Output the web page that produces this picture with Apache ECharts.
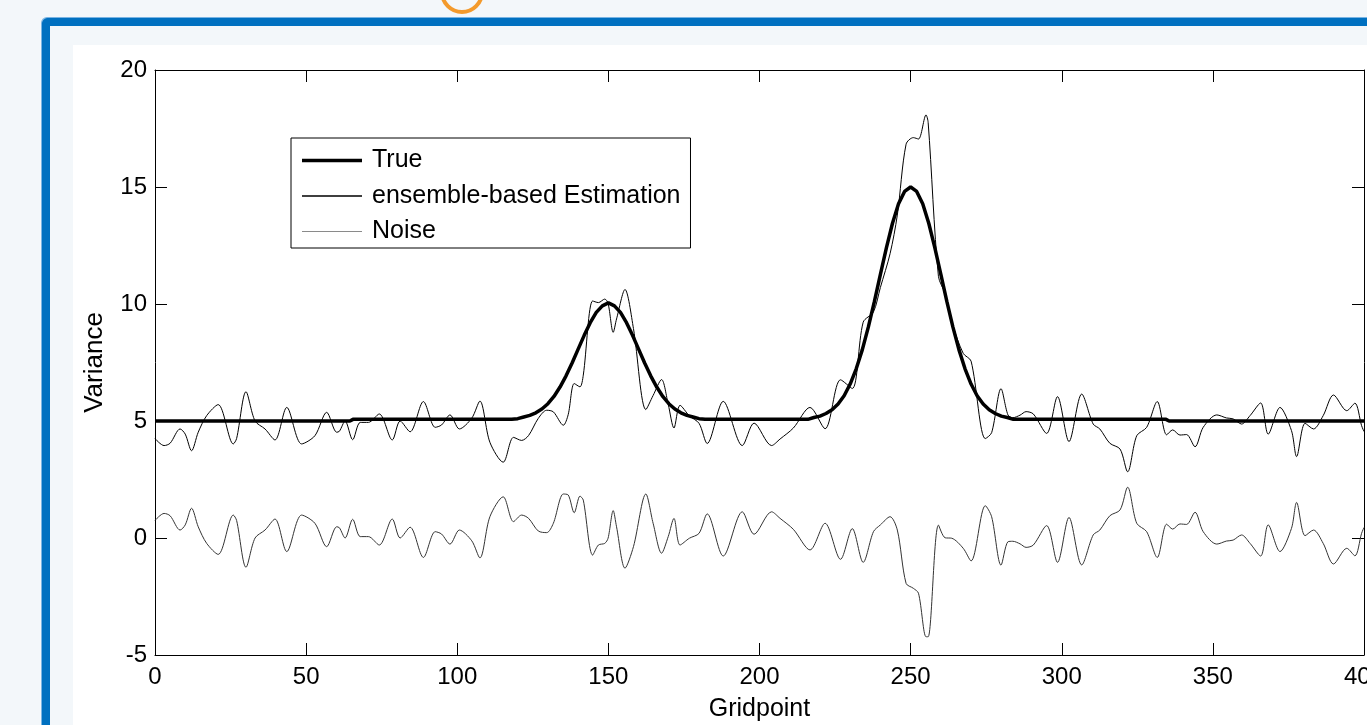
<!DOCTYPE html>
<html><head><meta charset="utf-8">
<script src="https://cdn.jsdelivr.net/npm/echarts@6/dist/echarts.min.js"></script>
<style>
html,body{margin:0;padding:0;width:1367px;height:725px;overflow:hidden;background:#f3f7fa;}
#frame{position:absolute;left:42px;top:18px;right:-30px;bottom:-30px;border-left:8px solid #0070c0;border-top:8px solid #0070c0;border-top-left-radius:6px;box-shadow:-1px -1px 0 #79b4e3;}
#panel{position:absolute;left:73px;top:45px;right:0;bottom:0;background:#fff;}
#arc{position:absolute;left:440px;top:-30px;width:36px;height:36px;border:4px solid #f39a2c;border-radius:50%;}
#chart{position:absolute;left:0;top:0;width:1367px;height:725px;}
</style></head>
<body>
<div id="frame"></div><div id="panel"></div><div id="arc"></div>
<div id="chart"></div>
<script>
// ---- data ----
const xMin = 0, xMax = 400, xStep = 50;
const yMin = -5, yMax = 20, yStep = 5;
const legendNames = ['True', 'ensemble-based Estimation', 'Noise'];

const truePts = [[0,5],[64.5,5],[65.5,5.07],[118,5.07],[120,5.10],[122,5.17],[124,5.24],[126,5.35],[128,5.51],[130,5.74],[132,6.05],[134,6.45],[136,6.93],[138,7.48],[140,8.07],[142,8.66],[144,9.20],[146,9.64],[148,9.92],[150,10.05],[152,9.92],[154,9.64],[156,9.20],[158,8.66],[160,8.07],[162,7.48],[164,6.93],[166,6.45],[168,6.05],[170,5.74],[172,5.51],[174,5.35],[176,5.24],[178,5.17],[180,5.10],[182,5.07],[216,5.07],[218,5.15],[220,5.21],[222,5.32],[224,5.48],[226,5.73],[228,6.08],[230,6.58],[232,7.23],[234,8.04],[236,9.01],[238,10.10],[240,11.27],[242,12.41],[244,13.45],[246,14.28],[248,14.81],[250,15.0],[252,14.81],[254,14.28],[256,13.45],[258,12.41],[260,11.27],[262,10.10],[264,9.01],[266,8.04],[268,7.23],[270,6.58],[272,6.08],[274,5.73],[276,5.48],[278,5.32],[280,5.21],[282,5.15],[284,5.07],[334.5,5.07],[335.5,5.0],[400,5.0]];

const estPts = [[0,4.25],[3,3.95],[5,4.05],[8.3,4.66],[10,4.44],[12.1,3.73],[14.3,4.52],[17.1,5.23],[20.9,5.70],[25.9,4.02],[27,4.25],[30.1,6.25],[33.1,5.0],[36.4,4.66],[39.7,4.19],[43.6,5.58],[48.5,4.02],[52.9,4.37],[56.8,5.37],[60.1,4.52],[61,4.56],[62.9,5.0],[65.4,4.2],[67.9,4.94],[70.6,4.94],[74.2,5.30],[78.5,4.19],[81.1,5.0],[84.4,4.54],[88.8,5.83],[92.7,4.73],[94.8,4.83],[97.6,5.26],[100.7,4.66],[104.8,5.12],[107.5,5.85],[110.8,4.09],[115.2,3.24],[118.6,4.30],[121.3,4.17],[123.6,4.38],[126.8,5.11],[129.6,5.46],[131.8,5.39],[135.1,4.82],[136.7,5.27],[138.7,6.60],[140.6,6.46],[141.7,6.96],[144.8,10.13],[146.7,10.06],[148.8,10.21],[149.9,10.03],[151.6,8.79],[152.7,9.36],[155.5,10.62],[158.3,8.95],[162.4,5.49],[164.8,6.09],[167.6,6.77],[169.8,5.71],[171.7,4.70],[173.7,5.67],[176.8,5.22],[180,4.90],[182.7,4.04],[188,5.84],[194.3,3.95],[198.2,4.91],[204,3.95],[206.8,4.23],[211.2,4.70],[216.7,5.58],[221.7,4.67],[226.8,6.76],[230.7,6.39],[234.3,9.22],[237.7,9.66],[240,10.71],[243.2,12.15],[245.6,13.80],[248.5,16.83],[250.9,17.11],[252.6,17.05],[255.1,18.08],[255.8,17.76],[259.2,11.18],[261.4,10.44],[263.6,9.23],[267.4,7.89],[270,7.56],[274.7,4.25],[276.8,4.50],[279.9,6.38],[282.2,5.26],[283.8,5.14],[286.2,5.25],[288.2,5.40],[290.6,5.30],[295,4.47],[298.6,6.04],[302.4,4.12],[306.6,6.15],[310.4,4.87],[312.6,4.66],[315.9,4.05],[319.3,3.80],[321.8,2.83],[324.8,4.37],[328.1,4.73],[331.6,5.83],[334.7,4.41],[336.7,4.62],[339.1,4.40],[341.3,4.42],[344.1,3.90],[346.8,4.73],[351.3,5.26],[354.5,5.13],[356.7,5.09],[359.5,4.87],[362.3,5.23],[365.8,5.77],[368.3,4.44],[372.2,5.58],[376,4.59],[377.7,3.48],[380.5,4.90],[383.3,4.66],[386.5,5.23],[389.9,6.11],[394.3,5.44],[397,5.76],[399.2,4.80],[400,4.55]];

const noisePts = [[0,0.75],[3,1.05],[5,0.95],[8.3,0.34],[10,0.56],[12.1,1.27],[14.3,0.48],[17.1,-0.23],[20.9,-0.70],[25.9,0.98],[27,0.75],[30.1,-1.25],[33.1,0.0],[36.4,0.34],[39.7,0.81],[43.6,-0.58],[48.5,0.98],[52.9,0.63],[56.8,-0.37],[60.1,0.48],[61,0.44],[62.9,0.0],[65.4,0.80],[67.9,0.06],[70.6,0.06],[74.2,-0.30],[78.5,0.81],[81.1,0.0],[84.4,0.46],[88.8,-0.83],[92.7,0.27],[94.8,0.17],[97.6,-0.26],[100.7,0.34],[104.8,-0.12],[107.5,-0.85],[110.8,0.91],[115.2,1.76],[118.6,0.70],[121.3,0.98],[123.6,0.84],[126.8,0.30],[129.6,0.23],[131.8,0.63],[135.1,1.88],[136.7,1.84],[138.7,1.08],[140.6,1.79],[141.7,1.62],[144.8,-0.73],[146.7,-0.30],[148.8,-0.23],[149.9,-0.01],[151.6,1.17],[152.7,0.48],[155.5,-1.29],[158.3,-0.37],[162.4,1.88],[164.8,0.63],[167.6,-0.65],[169.8,0.06],[171.7,0.84],[173.7,-0.30],[176.8,-0.01],[180,0.20],[182.7,1.03],[188,-0.77],[194.3,1.12],[198.2,0.16],[204,1.12],[206.8,0.84],[211.2,0.37],[216.7,-0.51],[221.7,0.63],[226.8,-0.91],[230.7,0.40],[234.3,-1.04],[237.7,0.27],[240,0.56],[243.2,0.91],[245.6,0.34],[248.5,-1.94],[250.9,-2.15],[252.6,-2.36],[255.1,-4.22],[255.8,-4.22],[259.2,0.55],[261.4,0.01],[263.6,-0.01],[267.4,-0.44],[270,-0.98],[274.7,1.38],[276.8,0.91],[279.9,-1.16],[282.2,-0.16],[283.8,-0.14],[286.2,-0.25],[288.2,-0.40],[290.6,-0.30],[295,0.53],[298.6,-1.04],[302.4,0.88],[306.6,-1.15],[310.4,0.13],[312.6,0.34],[315.9,0.95],[319.3,1.20],[321.8,2.17],[324.8,0.63],[328.1,0.27],[331.6,-0.83],[334.7,0.59],[336.7,0.38],[339.1,0.60],[341.3,0.58],[344.1,1.10],[346.8,0.27],[351.3,-0.26],[354.5,-0.13],[356.7,-0.09],[359.5,0.13],[362.3,-0.23],[365.8,-0.77],[368.3,0.56],[372.2,-0.58],[376,0.41],[377.7,1.52],[380.5,0.10],[383.3,0.34],[386.5,-0.23],[389.9,-1.11],[394.3,-0.44],[397,-0.76],[399.2,0.20],[400,0.45]];

// ---- chart ----
const FONT = '"Liberation Sans", Arial, sans-serif';
const chart = echarts.init(document.getElementById('chart'));
const axisCommon = {
  axisLine: { onZero: false, lineStyle: { color: '#000', width: 1 } },
  axisTick: { inside: true, length: 12, lineStyle: { color: '#000', width: 1 } },
  splitLine: { show: false }
};
const nameStyle = { fontSize: 25, color: '#000', fontFamily: FONT };
// legend line icons: a bar of a given thickness centred in a 60 x 25 box
function lineIcon(t) {
  const y0 = (12.5 - t / 2).toFixed(2);
  return 'path://M0,0h0.01v0.01h-0.01z M0,' + y0 + 'h60v' + t + 'h-60z M0,24.99h0.01v0.01h-0.01z';
}
chart.setOption({
  animation: false,
  backgroundColor: 'transparent',
  grid: { left: 155, right: 3, top: 70, bottom: 70, containLabel: false, outerBoundsMode: 'none' },
  legend: {
    orient: 'vertical', left: 291, top: 138,
    padding: [10, 10, 4, 11],
    itemWidth: 60, itemHeight: 25, itemGap: 10.5,
    symbolKeepAspect: true,
    borderColor: '#000', borderWidth: 1, borderRadius: 0, backgroundColor: '#fff',
    textStyle: { fontSize: 25, color: '#000', fontFamily: FONT, lineHeight: 25, padding: [0, 0, 0, 5] },
    data: [
      { name: legendNames[0], icon: lineIcon(3.5), itemStyle: { color: '#000' } },
      { name: legendNames[1], icon: lineIcon(1.4), itemStyle: { color: '#000' } },
      { name: legendNames[2], icon: lineIcon(1.2), itemStyle: { color: '#8a8a8a' } }
    ]
  },
  xAxis: [
    Object.assign({ type: 'value', position: 'bottom', min: xMin, max: xMax, interval: xStep,
      axisLabel: { fontSize: 24, color: '#000', fontFamily: FONT, margin: 10 },
      name: 'Gridpoint', nameLocation: 'middle', nameGap: 42, nameMoveOverlap: false, nameTextStyle: nameStyle }, axisCommon),
    Object.assign({ type: 'value', position: 'top', min: xMin, max: xMax, interval: xStep,
      axisLabel: { show: false } }, axisCommon)
  ],
  yAxis: [
    Object.assign({ type: 'value', position: 'left', min: yMin, max: yMax, interval: yStep,
      axisLabel: { fontSize: 24, color: '#000', fontFamily: FONT, margin: 8 },
      name: 'Variance', nameLocation: 'middle', nameGap: 47, nameMoveOverlap: false,
      nameTextStyle: Object.assign({}, nameStyle, { fontSize: 26 }) }, axisCommon),
    Object.assign({ type: 'value', position: 'right', min: yMin, max: yMax, interval: yStep,
      axisLabel: { show: false } }, axisCommon)
  ],
  series: [
    { name: legendNames[0], type: 'line', data: truePts, symbol: 'none', showSymbol: false,
      lineStyle: { color: '#000', width: 3.5 }, itemStyle: { color: '#000' }, z: 4 },
    { name: legendNames[1], type: 'line', data: estPts, symbol: 'none', showSymbol: false, smooth: 0.3,
      lineStyle: { color: '#000', width: 1 }, itemStyle: { color: '#000' }, z: 3 },
    { name: legendNames[2], type: 'line', data: noisePts, symbol: 'none', showSymbol: false, smooth: 0.3,
      lineStyle: { color: '#333', width: 1 }, itemStyle: { color: '#8a8a8a' }, z: 2 }
  ]
});
</script>
</body></html>
